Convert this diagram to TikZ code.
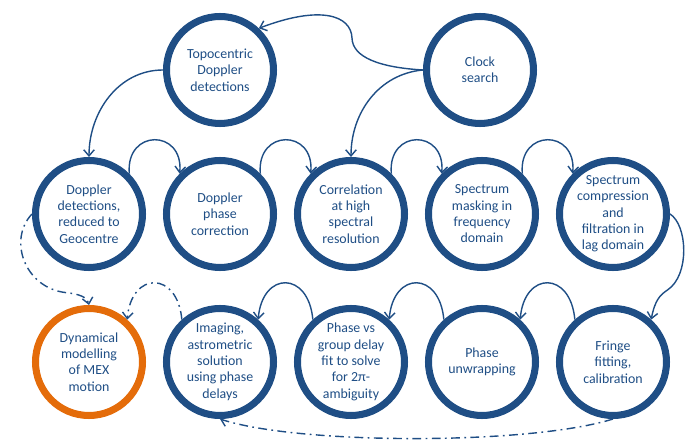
\documentclass[tikz,border=0pt]{standalone}
\usepackage{fontspec}
\setmainfont{Carlito}
\usetikzlibrary{arrows.meta}
\definecolor{mexblue}{HTML}{1F4E85}
\definecolor{mexorange}{HTML}{E46C0A}
\tikzset{
    stage/.style={circle, draw=mexblue, line width=4pt, minimum size=2.14cm, inner sep=0pt,
        align=center, text=mexblue, font=\fontsize{7.9}{9.3}\selectfont},
    flow/.style={draw=mexblue, line width=0.8pt, -{Straight Barb[length=3.5pt,width=6pt]}},
    feedback/.style={flow, dash pattern=on 5pt off 2.5pt on 1pt off 2.5pt},
    hop/.style={out=95, in=85, looseness=2.3}
}

\begin{document}
\begin{tikzpicture}
    \useasboundingbox (0,0) rectangle (13.76,-8.9);
    \node[stage] (topo) at (4.40,-1.40) {Topocentric\\Doppler\\detections};
    \node[stage] (clock) at (9.60,-1.40) {Clock\\search};
    \node[stage] (dd) at (1.78,-4.28) {Doppler\\detections,\\reduced to\\Geocentre};
    \node[stage] (dp) at (4.40,-4.28) {Doppler\\phase\\correction};
    \node[stage] (corr) at (7.02,-4.28) {Correlation\\at high\\spectral\\resolution};
    \node[stage] (mask) at (9.64,-4.28) {Spectrum\\masking in\\frequency\\domain};
    \node[stage] (comp) at (12.26,-4.28) {Spectrum\\compression\\and\\filtration in\\lag domain};
    \node[stage, draw=mexorange] (dyn) at (1.78,-7.24) {Dynamical\\modelling\\of MEX\\motion};
    \node[stage] (img) at (4.40,-7.24) {Imaging,\\astrometric\\solution\\using phase\\delays};
    \node[stage] (pvg) at (7.02,-7.24) {Phase vs\\group delay\\fit to solve\\for 2π-\\ambiguity};
    \node[stage] (unw) at (9.64,-7.24) {Phase\\unwrapping};
    \node[stage] (fringe) at (12.26,-7.24) {Fringe\\fitting,\\calibration};

    \draw[flow] (clock.west) .. controls (7.6,-1.35) and (7.05,-1.15) .. (7.04,-0.76)
        .. controls (7.02,-0.3) and (6.4,-0.1) .. (topo.47);
    \draw[flow] (clock.west) to[out=185, in=90] (corr.north);
    \draw[flow] (topo.west) to[out=180, in=90] (dd.north);

    \draw[flow] (dd.45) to[hop] (dp.135);
    \draw[flow] (dp.45) to[hop] (corr.135);
    \draw[flow] (corr.45) to[hop] (mask.135);
    \draw[flow] (mask.45) to[hop] (comp.135);
    \draw[flow] (comp.east) .. controls (13.75,-4.5) and (13.8,-5.5) .. (13.35,-5.8)
        .. controls (13.2,-5.9) and (13.1,-6.0) .. (fringe.48);
    \draw[flow] (fringe.132) to[hop] (unw.48);
    \draw[flow] (unw.132) to[hop] (pvg.48);
    \draw[flow] (pvg.132) to[hop] (img.48);

    \draw[feedback] (dd.west) .. controls (0.15,-4.8) and (0.5,-5.75) .. (1.3,-5.85)
        .. controls (1.6,-5.88) and (1.75,-5.95) .. (dyn.north);
    \draw[feedback] (img.132) to[hop] (dyn.48);
    \draw[feedback] (fringe.south) .. controls (10.6,-8.9) and (6,-8.9) .. (img.south);
\end{tikzpicture}
\end{document}
